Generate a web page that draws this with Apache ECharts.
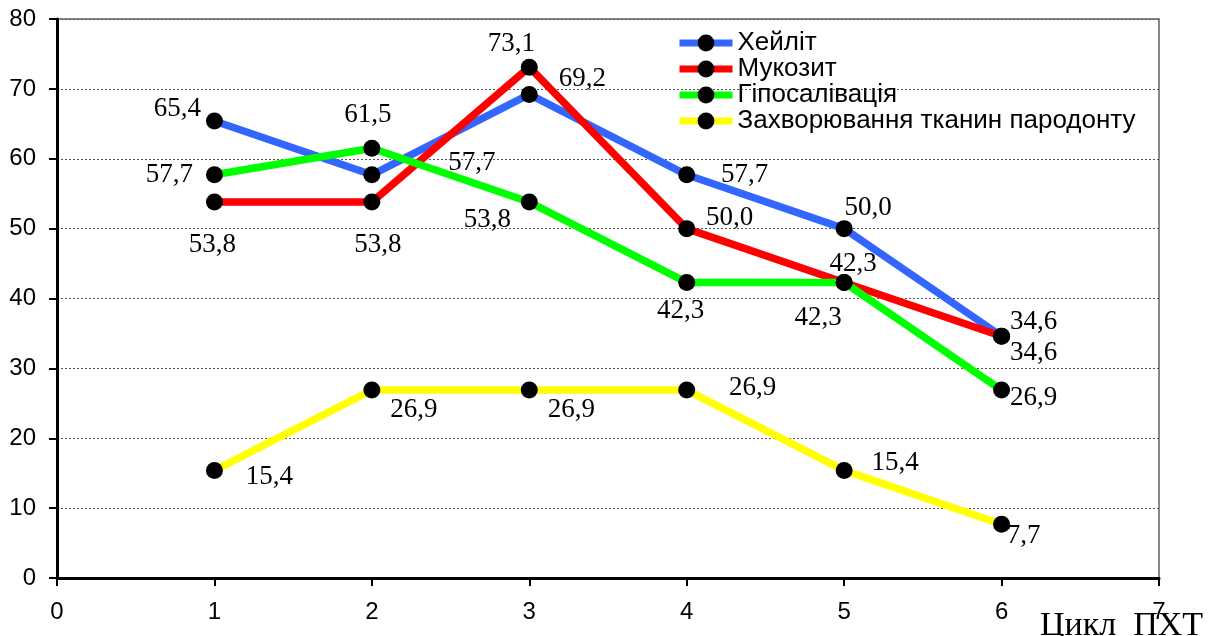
<!DOCTYPE html>
<html>
<head>
<meta charset="utf-8">
<script src="https://cdn.jsdelivr.net/npm/echarts@6/dist/echarts.min.js"></script>
<style>
  html, body { margin: 0; padding: 0; background: #fff; }
  #chart { width: 1221px; height: 636px; }
</style>
</head>
<body>
<div id="chart"></div>
<script>
// Chemotherapy cycle number (x) and share of patients, % (y)
const cycles = [1, 2, 3, 4, 5, 6];
const cheilitis = [65.4, 57.7, 69.2, 57.7, 50.0, 34.6];
const mucositis = [53.8, 53.8, 73.1, 50.0, 42.3, 34.6];
const hyposalivation = [57.7, 61.5, 53.8, 42.3, 42.3, 26.9];
const periodontal = [15.4, 26.9, 26.9, 26.9, 15.4, 7.7];
const seriesNames = ['Хейліт', 'Мукозит', 'Гіпосалівація', 'Захворювання тканин пародонту'];
const xAxisTitle = 'Цикл  ПХТ';

// Per-point label offsets from the marker centre (pixels)
const labelOffsets = [
  [[-37, -12], [100, -12], [53, -16], [58, 0], [24, -21], [32, -14]],
  [[-2, 43], [6, 43], [-18, -23], [43, -11], [9, -19], [32, 17]],
  [[-45, 0], [-4, -33], [-42, 18], [-6, 28], [-26, 35], [32, 8]],
  [[55, 7], [42, 20], [42, 20], [66, -2], [51, -7], [22, 12]]
];
const lineColors = ['#3366FF', '#FF0000', '#00FF00', '#FFFF00'];
const allValues = [cheilitis, mucositis, hyposalivation, periodontal];

const fmt = v => v.toFixed(1).replace('.', ',');

const series = allValues.map((vals, si) => ({
  name: seriesNames[si],
  type: 'line',
  symbol: 'circle',
  symbolSize: 17,
  lineStyle: { color: lineColors[si], width: 7.5 },
  itemStyle: { color: '#000' },
  emphasis: { disabled: true },
  data: cycles.map((c, i) => ({
    value: [c, vals[i]],
    label: { offset: labelOffsets[si][i] }
  })),
  label: {
    show: true,
    position: 'inside',
    align: 'center',
    verticalAlign: 'middle',
    color: '#000',
    fontFamily: '"Liberation Serif", "Times New Roman", serif',
    fontSize: 27,
    formatter: p => fmt(p.value[1])
  }
}));

const chart = echarts.init(document.getElementById('chart'));
chart.setOption({
  animation: false,
  backgroundColor: '#fff',
  grid: {
    left: 57, right: 62, top: 19, bottom: 58,
    show: true, borderColor: '#888', borderWidth: 2, backgroundColor: 'transparent'
  },
  legend: {
    orient: 'vertical',
    left: 676,
    top: 30,
    padding: 0,
    itemWidth: 53,
    itemHeight: 21,
    itemGap: 0,
    data: seriesNames,
    lineStyle: { width: 7 },
    textStyle: {
      fontFamily: '"Liberation Sans", Arial, sans-serif',
      fontSize: 26,
      lineHeight: 24,
      color: '#000'
    }
  },
  xAxis: {
    type: 'value',
    min: 0, max: 7, interval: 1,
    axisLine: { lineStyle: { color: '#000', width: 3 } },
    axisTick: { show: true, length: 8, lineStyle: { color: '#000', width: 2 } },
    axisLabel: {
      color: '#000', fontSize: 24, margin: 22,
      fontFamily: '"Liberation Sans", Arial, sans-serif'
    },
    splitLine: { show: false }
  },
  yAxis: {
    type: 'value',
    min: 0, max: 80, interval: 10,
    axisLine: { show: true, lineStyle: { color: '#000', width: 3 } },
    axisTick: { show: true, length: 8, lineStyle: { color: '#000', width: 2 } },
    axisLabel: {
      color: '#000', fontSize: 24, margin: 21,
      fontFamily: '"Liberation Sans", Arial, sans-serif'
    },
    splitLine: { show: true, lineStyle: { color: '#555', width: 1, type: [2, 2] } }
  },
  graphic: [{
    type: 'text',
    left: 1040,
    top: 609,
    z: 100,
    style: {
      text: xAxisTitle,
      fontFamily: '"Liberation Serif", "Times New Roman", serif',
      fontSize: 34,
      fill: '#000'
    }
  }],
  series: series
});
</script>
</body>
</html>
